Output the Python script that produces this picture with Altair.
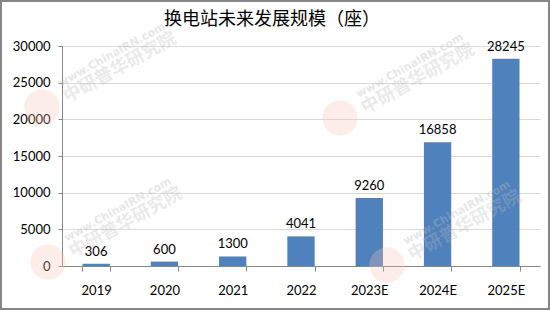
import altair as alt
import pandas as pd

years = ["2019", "2020", "2021", "2022", "2023E", "2024E", "2025E"]
stations = [306, 600, 1300, 4041, 9260, 16858, 28245]
y_ticks = [0, 5000, 10000, 15000, 20000, 25000, 30000]
title_text = "换电站未来发展规模（座）"

df = pd.DataFrame({"year": years, "value": stations})

FONT = "Lato"

x_enc = alt.X(
    "year:N",
    sort=years,
    scale=alt.Scale(paddingInner=0.6, paddingOuter=0.3),
    axis=alt.Axis(
        title=None, labelAngle=0, labelFontSize=13, labelFont=FONT,
        labelColor="#000000", labelPadding=13, tickSize=5,
        tickColor="#868686", domainColor="#868686", bandPosition=0,
        tickBand="extent",
    ),
)
y_enc = alt.Y(
    "value:Q",
    scale=alt.Scale(domain=[0, 30000], nice=False),
    axis=alt.Axis(
        title=None, values=y_ticks, format="d", labelOverlap=False,
        labelFontSize=13, labelFont=FONT,
        labelColor="#000000", tickSize=4, labelPadding=8,
        tickColor="#868686", domainColor="#868686",
        grid=True, gridColor="#d9d9d9",
    ),
)

bars = alt.Chart(df).mark_bar(color="#4F81BD").encode(x=x_enc, y=y_enc)
labels = alt.Chart(df).mark_text(
    baseline="bottom", dy=-5, fontSize=13, font=FONT, color="#000000"
).encode(x=x_enc, y=y_enc, text="value:Q")

one = pd.DataFrame({"a": [0]})
border = alt.Chart(one).mark_rect(
    filled=False, stroke="#868686", strokeWidth=2, clip=False
).encode(x=alt.value(-61), x2=alt.value(487), y=alt.value(-45), y2=alt.value(263))

title = alt.Chart(one).mark_text(
    fontSize=18, font="Noto Sans CJK SC", color="#000000",
    align="center", baseline="middle",
).encode(x=alt.value(210), y=alt.value(-26), text=alt.value(title_text))

# faint watermarks (logo + text), positioned relative to plot origin (62,46)
logos = [(-20, 61), (-14, 216), (325, 219), (278, 72)]
wm_rows = []
for lx, ly in logos:
    wm_rows.append({"x": lx, "y": ly, "kind": "logo", "t": "CIRN"})
    wm_rows.append({"x": lx + 70, "y": ly - 52, "kind": "url", "t": "www.ChinaIRN.com"})
    wm_rows.append({"x": lx + 78, "y": ly - 39, "kind": "cn", "t": "中研普华研究院"})
wm = pd.DataFrame(wm_rows)

wm_logo = alt.Chart(wm[wm.kind == "logo"]).mark_circle(
    size=1250, color="#f5c2b4", opacity=0.3, clip=False
).encode(x=alt.X("x:Q", scale=None), y=alt.Y("y:Q", scale=None))
wm_url = alt.Chart(wm[wm.kind == "url"]).mark_text(
    angle=331, fontSize=11, fontWeight="bold", font="DejaVu Sans",
    color="#bbbbbb", opacity=0.35, clip=False,
).encode(x=alt.X("x:Q", scale=None), y=alt.Y("y:Q", scale=None), text="t:N")
wm_cn = alt.Chart(wm[wm.kind == "cn"]).mark_text(
    angle=331, fontSize=18, fontWeight="bold", font="Noto Sans CJK SC",
    color="#bbbbbb", opacity=0.3, clip=False,
).encode(x=alt.X("x:Q", scale=None), y=alt.Y("y:Q", scale=None), text="t:N")

chart = alt.layer(bars, labels, wm_logo, wm_url, wm_cn, title, border).properties(
    width=478, height=220,
    autosize=alt.AutoSizeParams(type="none"),
    padding={"left": 62, "top": 46, "right": 10, "bottom": 44},
    background="#ffffff",
).configure_view(stroke=None)

chart.save("out.html", embed_options={"renderer": "svg", "actions": False})
